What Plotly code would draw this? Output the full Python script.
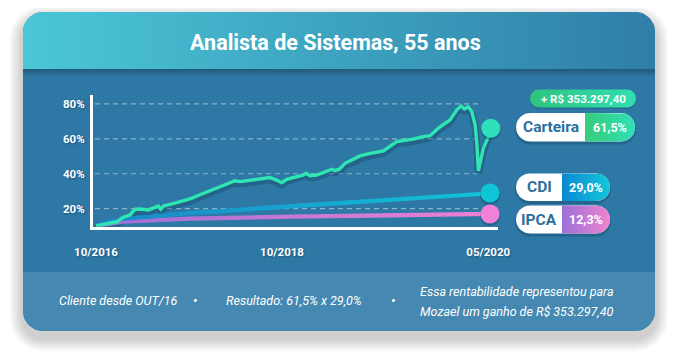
import numpy as np
import plotly.graph_objects as go

W, H = 675, 363
OFF = 8                      # page body margin compensation
FW, FH = W - OFF, H - OFF    # figure size

# ---------------- data ----------------
carteira_t = [0, 1.53, 2.26, 2.98, 3.71, 4.26, 4.80, 5.71, 6.44, 6.80, 7.06, 7.35, 8.08, 9.17,
              10.26, 11.35, 12.44, 13.17, 13.89, 14.55, 15.17, 15.72, 16.45, 17.54, 18.99, 19.72,
              20.27, 20.81, 21.72, 22.63, 22.92, 23.36, 24.09, 25.00, 25.73, 26.09, 26.55, 27.18,
              28.08, 28.81, 29.55, 31.36, 32.82, 34.63, 35.55, 36.45, 37.36, 38.63, 39.37, 39.84,
              40.20, 40.63, 41.01, 41.37, 41.55, 41.73, 41.91, 42.27, 42.82, 43.08]
carteira_v = [10.1, 12.0, 12.5, 15.1, 16.4, 19.7, 19.8, 19.3, 20.8, 21.5, 19.8, 21.5, 22.5, 23.8,
              25.6, 28.0, 30.3, 31.5, 33.0, 34.9, 36.0, 35.5, 36.0, 37.0, 37.8, 36.4,
              34.9, 36.8, 38.3, 39.3, 40.3, 38.9, 39.3, 41.2, 42.6, 41.8, 42.6, 46.0,
              48.3, 50.2, 51.2, 53.1, 58.4, 59.8, 61.1, 61.8, 66.1, 70.8, 76.6, 78.8,
              77.1, 78.4, 75.6, 68.0, 58.4, 41.6, 46.0, 54.6, 61.3, 66.1]
cdi_t = [0, 0.76, 2.95, 10.26, 21.2, 32.1, 41.9, 43.0]
cdi_v = [10.1, 12.0, 14.1, 17.4, 21.5, 25.0, 28.4, 29.0]
ipca_t = [0, 0.76, 2.95, 10.26, 21.2, 32.1, 41.9, 43.0]
ipca_v = [10.1, 10.9, 12.5, 14.3, 15.4, 16.2, 16.9, 17.0]

x_tick_vals = [0, 20.3, 42.8]
x_tick_text = ["10/2016", "10/2018", "05/2020"]
y_tick_vals = [20, 40, 60, 80]
y_tick_text = ["20%", "40%", "60%", "80%"]

title_text = "Analista de Sistemas, 55 anos"
gain_text = "+ R$ 353.297,40"
series_names = ["Carteira", "CDI", "IPCA"]
series_results = ["61,5%", "29,0%", "12,3%"]
footer_1 = "Cliente desde OUT/16"
footer_2 = "Resultado: 61,5% x 29,0%"
footer_3a = "Essa rentabilidade representou para"
footer_3b = "Mozael um ganho de R$ 353.297,40"

# ---------------- styles ----------------
FONT = "Roboto, sans-serif"
BODY = "#2d78a4"
FOOT = "#4589b2"
DARKTXT = "#2c6e9b"
SHADOW = "1px 1px 2px rgba(0,30,60,0.35)"
X_RANGE = [-0.33, 43.87]
Y_RANGE = [9.68, 85.1]
GRID_FRAC = (0.005, 0.955)   # horizontal extent of the dashed grid, fraction of the x axis

fig = go.Figure()


def rrect(x0, y0, x1, y1, r):
    if not isinstance(r, (tuple, list)):
        r = (r, r, r, r)
    tl, tr, br, bl = r
    xs, ys = [], []
    def arc(cx, cy, rad, a0, a1):
        if rad <= 0:
            xs.append(cx); ys.append(cy); return
        for a in np.linspace(a0, a1, 12):
            xs.append(cx + rad * np.cos(np.radians(a)))
            ys.append(cy + rad * np.sin(np.radians(a)))
    arc(x0 + tl, y0 + tl, tl, 180, 270)
    arc(x1 - tr, y0 + tr, tr, 270, 360)
    arc(x1 - br, y1 - br, br, 0, 90)
    arc(x0 + bl, y1 - bl, bl, 90, 180)
    xs.append(xs[0]); ys.append(ys[0])
    return xs, ys


def poly(xy, color=None, grad=None, gtype="horizontal", start=None, stop=None):
    xs, ys = xy
    kw = dict(x=xs, y=ys, mode="lines", fill="toself",
              line=dict(width=0, color="rgba(0,0,0,0)"),
              hoverinfo="skip", showlegend=False, xaxis="x", yaxis="y")
    if grad:
        g = dict(type=gtype, colorscale=[[0, grad[0]], [1, grad[1]]])
        if start is not None:
            g["start"] = start
            g["stop"] = stop
        kw["fillgradient"] = g
        kw["fillcolor"] = grad[0]
    else:
        kw["fillcolor"] = color
    fig.add_trace(go.Scatter(**kw))


# card shadow
for i in range(8):
    e = 2 + i * 1.6
    poly(rrect(23 - e, 12 - e + 7, 655 + e, 331 + e + 7, 20 + e), color="rgba(0,0,0,0.024)")

# card body
poly(rrect(23, 12, 655, 331, 20), color=BODY)
# header
poly(rrect(23, 12, 655, 69, (20, 20, 0, 0)), grad=("#4bc7d7", "#2f7ea8"))
# dark strip under header
poly(rrect(23, 69, 655, 77, 0), grad=("#225a7b", BODY), gtype="vertical", start=69, stop=77)
# footer
poly(rrect(23, 272, 655, 331, (0, 0, 20, 20)), color=FOOT)

# pills
pills = [
    (516, 113, 635, 141.5, 585, ("#38cb7b", "#2fe0b6")),
    (516, 173.5, 610, 201, 562, ("#0b88d2", "#13c7d9")),
    (516, 205.5, 610, 233.5, 562, ("#9a70d9", "#f184d0")),
]
for (x0, y0, x1, y1, xd, g) in pills:
    r = (y1 - y0) / 2
    poly(rrect(x0 - 1, y0 + 1, x1 + 1, y1 + 3, r + 1), color="rgba(10,40,70,0.25)")
    poly(rrect(x0, y0, x1, y1, r), color="white")
    poly(rrect(xd, y0, x1, y1, (0, r, r, 0)), grad=g)

# gain pill
poly(rrect(530, 91, 636, 109, 9), color="rgba(10,40,70,0.2)")
poly(rrect(530, 89.5, 636, 107.5, 9), grad=("#2ec47f", "#30dfb2"))

# ---------------- chart (x2 / y2) ----------------
# dashed grid lines (drawn first so that they sit beneath the series)
gx0 = X_RANGE[0] + GRID_FRAC[0] * (X_RANGE[1] - X_RANGE[0])
gx1 = X_RANGE[0] + GRID_FRAC[1] * (X_RANGE[1] - X_RANGE[0])
for yv in y_tick_vals:
    fig.add_trace(go.Scatter(x=[gx0, gx1], y=[yv, yv], mode="lines",
                             line=dict(color="rgba(255,255,255,0.45)", width=1.2,
                                       dash="5px,4px"),
                             hoverinfo="skip", showlegend=False, xaxis="x2", yaxis="y2"))

fig.add_trace(go.Scatter(x=carteira_t, y=[v - 1.3 for v in carteira_v], mode="lines",
                         line=dict(color="rgba(15,45,75,0.28)", width=7),
                         hoverinfo="skip", showlegend=False, xaxis="x2", yaxis="y2",
                         cliponaxis=False))


def thick_line(t, v, half, grad):
    xs = list(t) + list(t)[::-1]
    ys = [a + half for a in v] + [a - half for a in v][::-1]
    fig.add_trace(go.Scatter(x=xs, y=ys, mode="lines", fill="toself",
                             line=dict(width=0, color="rgba(0,0,0,0)"),
                             fillcolor=grad[0],
                             fillgradient=dict(type="horizontal",
                                               colorscale=[[0, grad[0]], [1, grad[1]]]),
                             hoverinfo="skip", showlegend=False, xaxis="x2", yaxis="y2",
                             cliponaxis=False))


thick_line(ipca_t, ipca_v, 1.2, ("#9d6fd7", "#ef80d3"))
thick_line(cdi_t, cdi_v, 1.2, ("#1b86c9", "#12c3d7"))

fig.add_trace(go.Scatter(x=carteira_t, y=carteira_v, mode="lines",
                         line=dict(color="#2fe6b3", width=3.4, shape="linear"),
                         hoverinfo="skip", showlegend=False, xaxis="x2", yaxis="y2",
                         cliponaxis=False))

for t, v, c in [(carteira_t, carteira_v, "#30e0bb"), (cdi_t, cdi_v, "#0fc4d7"),
                (ipca_t, ipca_v, "#f282d8")]:
    fig.add_trace(go.Scatter(x=[t[-1]], y=[v[-1] - 1.1], mode="markers",
                             marker=dict(size=20, color="rgba(15,45,75,0.3)"),
                             hoverinfo="skip", showlegend=False, xaxis="x2", yaxis="y2",
                             cliponaxis=False))
    fig.add_trace(go.Scatter(x=[t[-1]], y=[v[-1]], mode="markers",
                             marker=dict(size=19, color=c),
                             hoverinfo="skip", showlegend=False, xaxis="x2", yaxis="y2",
                             cliponaxis=False))

# ---------------- texts ----------------
ann = []
ann.append(dict(x=335, y=42, xref="x", yref="y", text=f"<b>{title_text}</b>", showarrow=False,
                font=dict(family=FONT, size=21.5, color="white")))
ann.append(dict(x=583, y=98.5, xref="x", yref="y", text=f"<b>{gain_text}</b>", showarrow=False,
                font=dict(family=FONT, size=11.5, color="white")))
centers = [(550.5, 610, 127.3), (539, 586, 187.3), (539, 586, 219.5)]
for (cx1, cx2, cy), name, res in zip(centers, series_names, series_results):
    ann.append(dict(x=cx1, y=cy, xref="x", yref="y", text=f"<b>{name}</b>", showarrow=False,
                    font=dict(family=FONT, size=15.5, color=DARKTXT)))
    ann.append(dict(x=cx2, y=cy, xref="x", yref="y", text=f"<b>{res}</b>", showarrow=False,
                    font=dict(family=FONT, size=12.5, color="white")))

FOOTF = dict(family=FONT, size=12.5, color="white", style="italic")
ann.append(dict(x=118, y=300, xref="x", yref="y", text=footer_1, showarrow=False, font=FOOTF))
ann.append(dict(x=195, y=300, xref="x", yref="y", text="<b>•</b>", showarrow=False, font=FOOTF))
ann.append(dict(x=294, y=300, xref="x", yref="y", text=footer_2, showarrow=False, font=FOOTF))
ann.append(dict(x=393, y=300, xref="x", yref="y", text="<b>•</b>", showarrow=False, font=FOOTF))
ann.append(dict(x=418, y=291, xref="x", yref="y", text=footer_3a, showarrow=False, font=FOOTF,
                xanchor="left"))
ann.append(dict(x=418, y=311, xref="x", yref="y", text=footer_3b, showarrow=False, font=FOOTF,
                xanchor="left"))

TICKF = dict(family=FONT, size=11.5, color="white", weight="bold", shadow=SHADOW)


def px_x(X):
    return (X - OFF) / FW


def px_y(Y):
    return 1 - (Y - OFF) / FH


fig.update_layout(
    width=FW, height=FH, margin=dict(l=0, r=0, t=0, b=0, pad=0, autoexpand=False),
    paper_bgcolor="white", plot_bgcolor="rgba(0,0,0,0)",
    showlegend=False,
    xaxis=dict(domain=[0, 1], range=[OFF, W], visible=False, fixedrange=True, automargin=False),
    yaxis=dict(domain=[0, 1], range=[H, OFF], visible=False, fixedrange=True, automargin=False),
    xaxis2=dict(domain=[px_x(93), px_x(498)], range=X_RANGE, anchor="y2",
                showline=True, linecolor="white", linewidth=3, showgrid=False, zeroline=False,
                tickvals=x_tick_vals, ticktext=x_tick_text, ticks="", tickfont=TICKF,
                ticklabelstandoff=12, fixedrange=True, automargin=False),
    yaxis2=dict(domain=[px_y(226.7), px_y(95)], range=Y_RANGE, anchor="x2",
                showline=True, linecolor="white", linewidth=3, showgrid=False, zeroline=False,
                tickvals=y_tick_vals, ticktext=y_tick_text, ticks="", tickfont=TICKF,
                ticklabelstandoff=3, fixedrange=True, automargin=False),
    annotations=ann,
)

fig.write_html("out.html")
